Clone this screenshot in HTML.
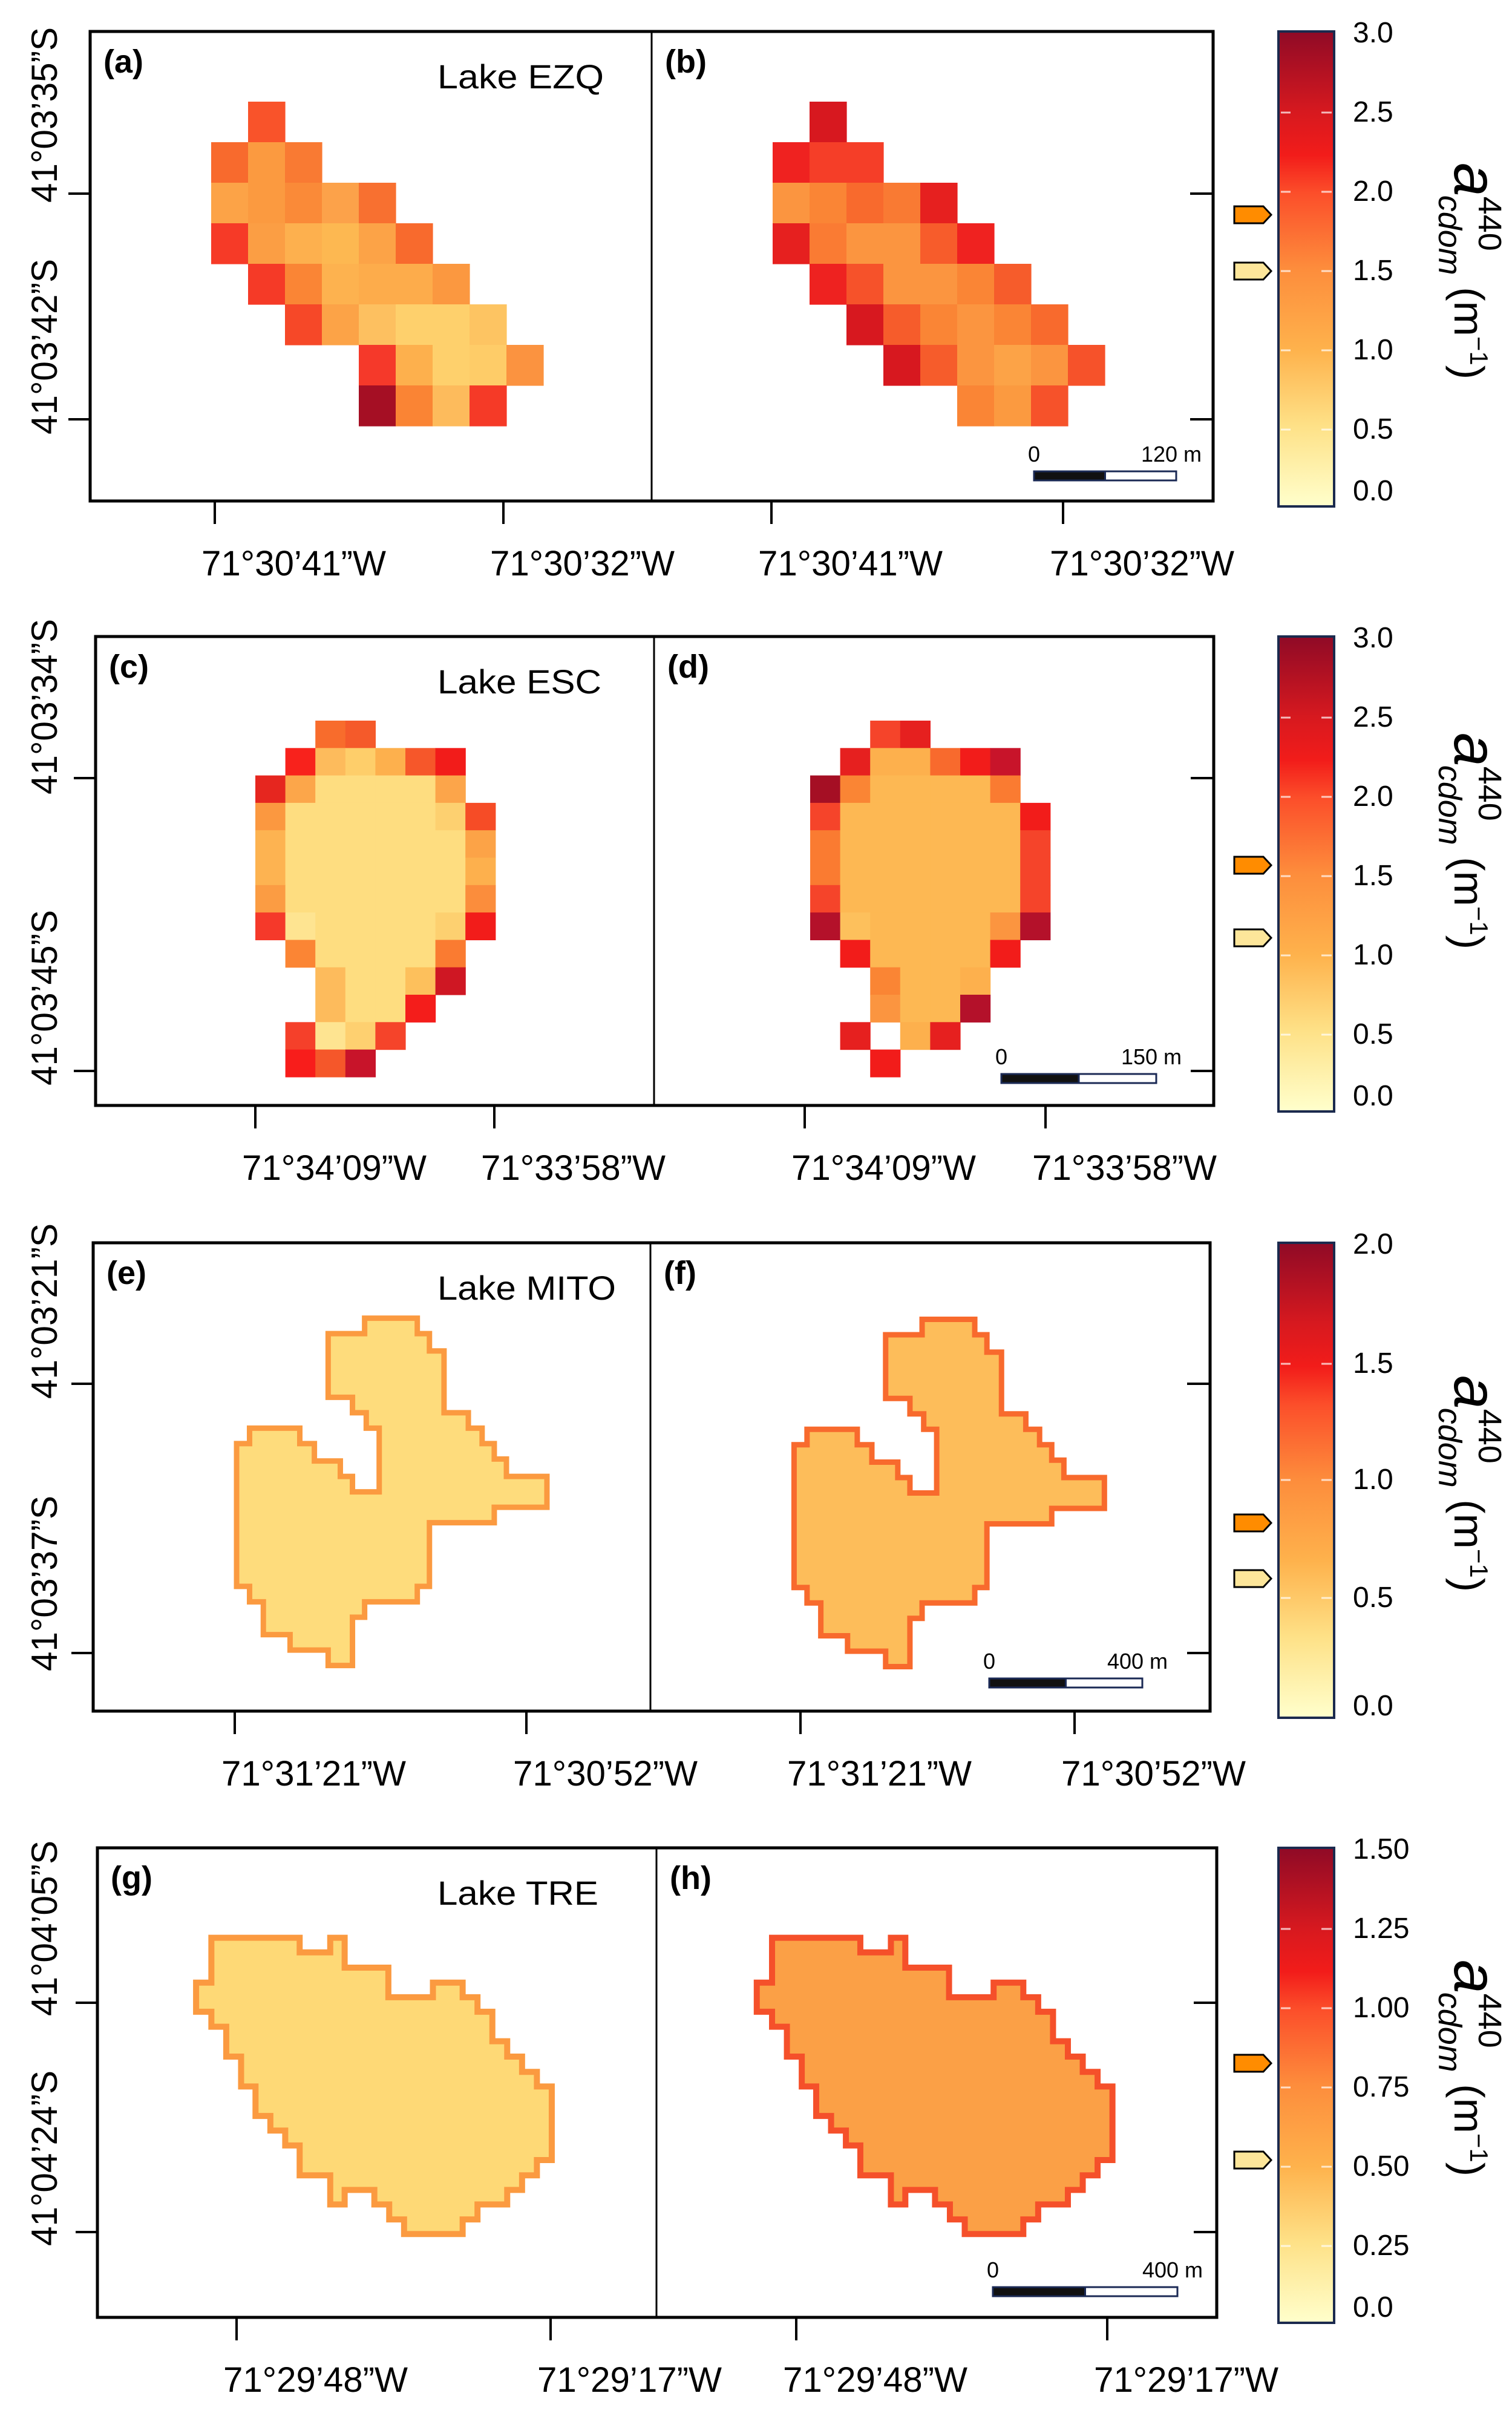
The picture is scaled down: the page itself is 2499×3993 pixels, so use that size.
<!DOCTYPE html>
<html><head><meta charset="utf-8"><style>
html,body{margin:0;padding:0;background:#fff}
svg{display:block}
text{font-family:"Liberation Sans",Arial,sans-serif;fill:#000}
</style></head><body>
<svg id="s" xmlns="http://www.w3.org/2000/svg" width="2499" height="3993" viewBox="0 0 2499 3993">
<defs>
<linearGradient id="cb" x1="0" y1="0" x2="0" y2="1">
<stop offset="0" stop-color="#8f0a26"/><stop offset="0.17" stop-color="#d7191f"/>
<stop offset="0.26" stop-color="#f21c1a"/><stop offset="0.34" stop-color="#fc4e2a"/>
<stop offset="0.5" stop-color="#fd8d3c"/><stop offset="0.67" stop-color="#feb24c"/>
<stop offset="0.83" stop-color="#fee187"/><stop offset="1" stop-color="#ffffcc"/>
</linearGradient>
</defs>
<g id="maps"></g>

<g transform="translate(0,2000) scale(1.3392,0.6378)">
<polygon points="450,280 515,280 515,320 530,320 530,365 548,365 548,525 578,525 578,565 595,565 595,605 610,605 610,645 625,645 625,690 675,690 675,770 610,770 610,810 530,810 530,975 515,975 515,1015 450,1015 450,1055 435,1055 435,1180 405,1180 405,1140 358,1140 358,1100 325,1100 325,1015 308,1015 308,975 292,975 292,605 308,605 308,565 370,565 370,605 388,605 388,650 420,650 420,690 435,690 435,730 468,730 468,565 452,565 452,525 435,525 435,485 405,485 405,320 450,320" fill="#fedc7c" stroke="#fb9a40" stroke-width="9" vector-effect="non-scaling-stroke"/>
<polygon transform="translate(688,3)" points="450,280 515,280 515,320 530,320 530,365 548,365 548,525 578,525 578,565 595,565 595,605 610,605 610,645 625,645 625,690 675,690 675,770 610,770 610,810 530,810 530,975 515,975 515,1015 450,1015 450,1055 435,1055 435,1180 405,1180 405,1140 358,1140 358,1100 325,1100 325,1015 308,1015 308,975 292,975 292,605 308,605 308,565 370,565 370,605 388,605 388,650 420,650 420,690 435,690 435,730 468,730 468,565 452,565 452,525 435,525 435,485 405,485 405,320 450,320" fill="#fdbd5a" stroke="#f86a2d" stroke-width="9" vector-effect="non-scaling-stroke"/>
</g>
<g transform="translate(0,3000) scale(0.7015,0.6333)">
<polygon points="498,320 706,320 706,358 778,358 778,320 812,320 812,398 915,398 915,475 1020,475 1020,437 1090,437 1090,475 1125,475 1125,513 1160,513 1160,590 1195,590 1195,630 1230,630 1230,670 1265,670 1265,708 1300,708 1300,900 1265,900 1265,940 1230,940 1230,978 1195,978 1195,1016 1125,1016 1125,1055 1090,1055 1090,1093 952,1093 952,1055 917,1055 917,1016 882,1016 882,978 812,978 812,1016 778,1016 778,940 706,940 706,862 672,862 672,823 637,823 637,785 602,785 602,708 568,708 568,630 533,630 533,552 498,552 498,513 462,513 462,437 498,437" fill="#fed976" stroke="#fb9a40" stroke-width="10" vector-effect="non-scaling-stroke"/>
<polygon transform="translate(1321,0)" points="498,320 706,320 706,358 778,358 778,320 812,320 812,398 915,398 915,475 1020,475 1020,437 1090,437 1090,475 1125,475 1125,513 1160,513 1160,590 1195,590 1195,630 1230,630 1230,670 1265,670 1265,708 1300,708 1300,900 1265,900 1265,940 1230,940 1230,978 1195,978 1195,1016 1125,1016 1125,1055 1090,1055 1090,1093 952,1093 952,1055 917,1055 917,1016 882,1016 882,978 812,978 812,1016 778,1016 778,940 706,940 706,862 672,862 672,823 637,823 637,785 602,785 602,708 568,708 568,630 533,630 533,552 498,552 498,513 462,513 462,437 498,437" fill="#fba046" stroke="#f5502a" stroke-width="10" vector-effect="non-scaling-stroke"/>
</g>

<g id="frames" fill="none" stroke="#000"></g>
<g id="txt"></g>
</svg>
<script>
var NS="http://www.w3.org/2000/svg";
function el(p,t,a,txt){var e=document.createElementNS(NS,t);for(var k in a)e.setAttribute(k,a[k]);if(txt!==undefined)e.textContent=txt;document.getElementById(p).appendChild(e);return e;}
function grid(x0,y0,cw,ch,rows){rows.forEach(function(r,i){var s=r[0];r[1].forEach(function(c,j){if(c)el("maps","rect",{x:(x0+(s+j)*cw).toFixed(1),y:(y0+i*ch).toFixed(1),width:(cw+0.6).toFixed(1),height:(ch+0.6).toFixed(1),fill:c});});});}
grid(349,168,61,67,[[1,["#f9532a"]],[0,["#f86a2d","#fb9a40","#f97a33"]],[0,["#fca347","#fb9a40","#fa8a38","#fca24a","#f87030"]],[0,["#f63a27","#fb9e44","#fdb04e","#fdb851","#fca347","#f86a2d"]],[1,["#f53a27","#fa8535","#fdb24f","#fdac4b","#fdac4b","#fb9840"]],[2,["#f64828","#fca347","#fdc060","#fed06c","#fed06c","#fdc462"]],[4,["#f5392a","#fdb04d","#fed06c","#fecc68","#fb9340"]],[4,["#a50f24","#fa8434","#fdbb5c","#f53a27"]]]);
grid(1277,168,61,67,[[1,["#d7181f"]],[0,["#ef2220","#f53e28","#f53e28"]],[0,["#fb9540","#fa8535","#f86a2d","#f97a33","#e6201f"]],[0,["#e6201f","#fa7b33","#fb9540","#fb9540","#f75c2b","#ef2220"]],[1,["#ee2220","#f6522a","#fb9540","#fb9540","#fa8535","#f65c2b"]],[2,["#d7181f","#f65c2b","#fa8535","#fb9540","#fa8535","#f86a2d"]],[3,["#d7181f","#f65c2b","#fb9540","#fca347","#fb9540","#f6522a"]],[5,["#fa8535","#fb9a40","#f6522a"]]]);
var Y="#fedd80",O="#fdb853";
grid(422,1191,49.6,45.3,[[2,["#f86c2c","#f55a2a"]],[1,["#f8221c","#fdbb5c","#fece6a","#fdb04d","#f6572a","#f21c1a"]],[0,["#e6261f","#fca64a",Y,Y,Y,Y,"#fca54a"]],[0,["#fb9840",Y,Y,Y,Y,Y,"#fdd070","#f64c26"]],[0,["#fdb351",Y,Y,Y,Y,Y,Y,"#fca347"]],[0,["#fdb351",Y,Y,Y,Y,Y,Y,"#fdb04d"]],[0,["#fb9c43",Y,Y,Y,Y,Y,Y,"#fb8d3c"]],[0,["#f5392a","#fee491",Y,Y,Y,Y,"#fdd070","#f21c1a"]],[1,["#fb8534",Y,Y,Y,Y,"#fa7b31"]],[2,["#fdbb5c",Y,Y,"#fdc05c","#cf1723"]],[2,["#fdbb5c",Y,Y,"#f41d1b"]],[1,["#f5402a","#fee491","#fed070","#f5442a"]],[1,["#f81d1b","#f5572a","#c8142a"]]]);
grid(1339,1191,49.6,45.3,[[2,["#f5442a","#e6201f"]],[1,["#e6201f","#fdb04d","#fdb04d","#f86a2d","#f21c1a","#c8142a"]],[0,["#a50f24","#fa8534",O,O,O,O,"#fa7b31"]],[0,["#f5442a",O,O,O,O,O,O,"#f21c1a"]],[0,["#fa7b31",O,O,O,O,O,O,"#f5442a"]],[0,["#fa7b31",O,O,O,O,O,O,"#f5442a"]],[0,["#f5442a",O,O,O,O,O,O,"#f5442a"]],[0,["#b4112a","#fdc05c",O,O,O,O,"#fb9540","#b4112a"]],[1,["#f21c1a",O,O,O,O,"#f21c1a"]],[2,["#fa8534",O,O,"#fdb04d"]],[2,["#fb9540",O,O,"#b4112a"]],[1,["#e6201f",null,"#fdb04d","#e6201f"]],[2,["#f21c1a"]]]);

var rows=[
 {L:149,R:2005,T:52,B:828,D:1077,xt:[355,832,1275,1757],xl:["71°30’41”W","71°30’32”W"],yt:[320,693],yl:[["41°03’35”S",190],["41°03’42”S",573]],p:["(a)","(b)"],lake:"Lake EZQ",lw:275,sb:[1709,1944,779,"120 m"],cb:["3.0","2.5","2.0","1.5","1.0","0.5","0.0"],ar:[303,396],tc:392},
 {L:158,R:2006,T:1052,B:1827,D:1081,xt:[422,817,1330,1728],xl:["71°34’09”W","71°33’58”W"],yt:[1286,1770],yl:[["41°03’34”S",1168],["41°03’45”S",1649]],p:["(c)","(d)"],lake:"Lake ESC",lw:271,sb:[1655,1911,1775,"150 m"],cb:["3.0","2.5","2.0","1.5","1.0","0.5","0.0"],ar:[378,498],tc:334},
 {L:154,R:2000,T:2054,B:2828,D:1075,xt:[388,870,1323,1776],xl:["71°31’21”W","71°30’52”W"],yt:[2287,2732],yl:[["41°03’21”S",2167],["41°03’37”S",2617]],p:["(e)","(f)"],lake:"Lake MITO",lw:295,sb:[1635,1888,2774,"400 m"],cb:["2.0","1.5","1.0","0.5","0.0"],ar:[463,555],tc:394},
 {L:161,R:2011,T:3054,B:3830,D:1085,xt:[391,910,1316,1830],xl:["71°29’48”W","71°29’17”W"],yt:[3310,3689],yl:[["41°04’05”S",3187],["41°04’24”S",3567]],p:["(g)","(h)"],lake:"Lake TRE",lw:266,sb:[1641,1946,3780,"400 m"],cb:["1.50","1.25","1.00","0.75","0.50","0.25","0.0"],ar:[356,516],tc:360}
];
rows.forEach(function(r){
 el("frames","rect",{x:r.L,y:r.T,width:r.R-r.L,height:r.B-r.T,"stroke-width":5});
 el("frames","line",{x1:r.D,y1:r.T,x2:r.D,y2:r.B,"stroke-width":3});
 r.xt.forEach(function(x,i){el("frames","line",{x1:x,y1:r.B,x2:x,y2:r.B+38,"stroke-width":4});
   el("txt","text",{x:x-22,y:r.B+123,"font-size":58,textLength:305,lengthAdjust:"spacingAndGlyphs"},r.xl[i%2]);});
 r.yt.forEach(function(y){el("frames","line",{x1:r.L-36,y1:y,x2:r.L,y2:y,"stroke-width":4});
   el("frames","line",{x1:r.R-38,y1:y,x2:r.R,y2:y,"stroke-width":4});});
 r.yl.forEach(function(a){el("txt","text",{transform:"translate(94,"+a[1]+") rotate(-90)","text-anchor":"middle","font-size":60,textLength:290,lengthAdjust:"spacingAndGlyphs"},a[0]);});
 el("txt","text",{x:r.L+22,y:r.T+68,"font-size":54,"font-weight":"bold"},r.p[0]);
 el("txt","text",{x:r.D+22,y:r.T+68,"font-size":54,"font-weight":"bold"},r.p[1]);
 el("txt","text",{x:723,y:r.T+94,"font-size":56,textLength:r.lw,lengthAdjust:"spacingAndGlyphs"},r.lake);
 var s=r.sb,mid=(s[0]+s[1])/2;
 el("frames","rect",{x:s[0],y:s[2],width:mid-s[0],height:15,fill:"#111",stroke:"#1b2a55","stroke-width":3});
 el("frames","rect",{x:mid,y:s[2],width:s[1]-mid,height:15,fill:"#fff",stroke:"#1b2a55","stroke-width":3});
 el("txt","text",{x:s[0],y:s[2]-16,"font-size":36,"text-anchor":"middle"},"0");
 el("txt","text",{x:s[1]+42,y:s[2]-16,"font-size":36,"text-anchor":"end"},s[3]);
 var cT=r.T,cH=785;
 el("frames","rect",{x:2113,y:cT,width:92,height:cH,fill:"url(#cb)",stroke:"#1b2a4e","stroke-width":4});
 var n=r.cb.length, offs = n==7?[0,131,262,393,524,655,757]:[0,197,389,584,763];
 r.cb.forEach(function(t,i){
   el("txt","text",{x:2236,y:cT+offs[i]+18,"font-size":48},t);
   if(i>0&&i<n-1){el("frames","line",{x1:2117,y1:cT+offs[i]+3,x2:2133,y2:cT+offs[i]+3,stroke:"#fff","stroke-opacity":0.7,"stroke-width":3});
     el("frames","line",{x1:2184,y1:cT+offs[i]+3,x2:2201,y2:cT+offs[i]+3,stroke:"#fff","stroke-opacity":0.7,"stroke-width":3});}
 });
 [["#ff8c00",r.ar[0]],["#fde69a",r.ar[1]]].forEach(function(a){var y=cT+a[1];
   el("frames","polygon",{points:"2040,"+(y-14)+" 2088,"+(y-14)+" 2101,"+y+" 2088,"+(y+14)+" 2040,"+(y+14),fill:a[0],stroke:"#000","stroke-width":3});});
 var t=el("txt","text",{transform:"translate(2404,"+(cT+r.tc-175)+") rotate(90)","font-size":70});
 var parts=[["a",{"font-size":100,"font-style":"italic"}],["440",{"font-size":54,dy:-40}],["cdom",{"font-size":54,"font-style":"italic",dx:-92,dy:66}],[" (m",{dy:-26}],["−1",{"font-size":42,dy:-26}],[")",{dy:26}]];
 parts.forEach(function(p){var ts=document.createElementNS(NS,"tspan");for(var k in p[1])ts.setAttribute(k,p[1][k]);ts.textContent=p[0];t.appendChild(ts);});
});
</script>
</body></html>
